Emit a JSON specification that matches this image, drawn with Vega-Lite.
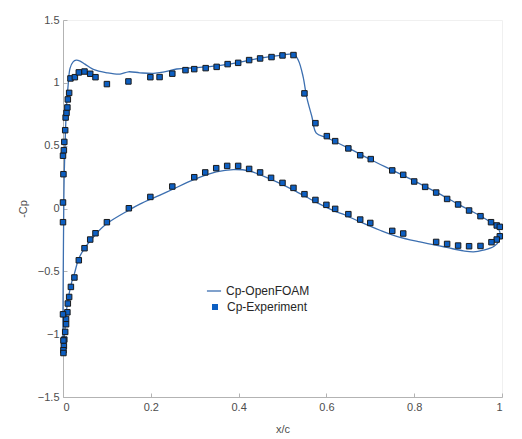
{
  "$schema": "https://vega.github.io/schema/vega-lite/v6.json",
  "width": 439,
  "height": 377,
  "autosize": {"type": "none"},
  "padding": {"left": 63, "top": 20, "right": 20, "bottom": 42},
  "background": "white",
  "config": {
    "view": {"stroke": "#f0f0f0", "strokeWidth": 1},
    "font": "Liberation Sans",
    "axis": {
      "grid": false,
      "domainColor": "#b3b3b3",
      "tickColor": "#b3b3b3",
      "labelColor": "#4d4d4d",
      "titleColor": "#4d4d4d",
      "labelFontSize": 11,
      "titleFontSize": 11,
      "titleFontWeight": "normal",
      "tickSize": -4,
      "labelPadding": 8,
      "format": "~g"
    }
  },
  "datasets": {
    "cfd": [
      {"i": 1, "x": 0.0, "cp": -1.14},
      {"i": 2, "x": 0.0, "cp": -0.8},
      {"i": 3, "x": 0.001, "cp": -0.3},
      {"i": 4, "x": 0.002, "cp": 0.1},
      {"i": 5, "x": 0.003, "cp": 0.3},
      {"i": 6, "x": 0.005, "cp": 0.545},
      {"i": 7, "x": 0.008, "cp": 0.809},
      {"i": 8, "x": 0.012, "cp": 0.995},
      {"i": 9, "x": 0.016, "cp": 1.115},
      {"i": 10, "x": 0.023, "cp": 1.167},
      {"i": 11, "x": 0.03, "cp": 1.18},
      {"i": 12, "x": 0.039, "cp": 1.173},
      {"i": 13, "x": 0.05, "cp": 1.149},
      {"i": 14, "x": 0.069, "cp": 1.107},
      {"i": 15, "x": 0.1, "cp": 1.08},
      {"i": 16, "x": 0.13, "cp": 1.069},
      {"i": 17, "x": 0.149, "cp": 1.088},
      {"i": 18, "x": 0.175, "cp": 1.08},
      {"i": 19, "x": 0.206, "cp": 1.075},
      {"i": 20, "x": 0.228, "cp": 1.085},
      {"i": 21, "x": 0.259, "cp": 1.11},
      {"i": 22, "x": 0.3, "cp": 1.12},
      {"i": 23, "x": 0.35, "cp": 1.135},
      {"i": 24, "x": 0.4, "cp": 1.163},
      {"i": 25, "x": 0.45, "cp": 1.197},
      {"i": 26, "x": 0.5, "cp": 1.22},
      {"i": 27, "x": 0.525, "cp": 1.228},
      {"i": 28, "x": 0.536, "cp": 1.18},
      {"i": 29, "x": 0.547, "cp": 1.048},
      {"i": 30, "x": 0.555, "cp": 0.888},
      {"i": 31, "x": 0.567, "cp": 0.73},
      {"i": 32, "x": 0.577, "cp": 0.6},
      {"i": 33, "x": 0.6, "cp": 0.565},
      {"i": 34, "x": 0.65, "cp": 0.48},
      {"i": 35, "x": 0.7, "cp": 0.39},
      {"i": 36, "x": 0.75, "cp": 0.305},
      {"i": 37, "x": 0.8, "cp": 0.22},
      {"i": 38, "x": 0.85, "cp": 0.13},
      {"i": 39, "x": 0.9, "cp": 0.035},
      {"i": 40, "x": 0.95, "cp": -0.058},
      {"i": 41, "x": 0.973, "cp": -0.107},
      {"i": 42, "x": 0.988, "cp": -0.146},
      {"i": 43, "x": 0.995, "cp": -0.186},
      {"i": 44, "x": 0.994, "cp": -0.252},
      {"i": 45, "x": 0.982, "cp": -0.3},
      {"i": 46, "x": 0.957, "cp": -0.332},
      {"i": 47, "x": 0.935, "cp": -0.345},
      {"i": 48, "x": 0.912, "cp": -0.337},
      {"i": 49, "x": 0.874, "cp": -0.31},
      {"i": 50, "x": 0.813, "cp": -0.266},
      {"i": 51, "x": 0.76, "cp": -0.221},
      {"i": 52, "x": 0.722, "cp": -0.173},
      {"i": 53, "x": 0.677, "cp": -0.107},
      {"i": 54, "x": 0.638, "cp": -0.045},
      {"i": 55, "x": 0.623, "cp": -0.027},
      {"i": 56, "x": 0.575, "cp": 0.053},
      {"i": 57, "x": 0.525, "cp": 0.146},
      {"i": 58, "x": 0.474, "cp": 0.231},
      {"i": 59, "x": 0.424, "cp": 0.299},
      {"i": 60, "x": 0.388, "cp": 0.31},
      {"i": 61, "x": 0.349, "cp": 0.291},
      {"i": 62, "x": 0.299, "cp": 0.231},
      {"i": 63, "x": 0.249, "cp": 0.151},
      {"i": 64, "x": 0.221, "cp": 0.106},
      {"i": 65, "x": 0.175, "cp": 0.035},
      {"i": 66, "x": 0.15, "cp": -0.013},
      {"i": 67, "x": 0.1, "cp": -0.12},
      {"i": 68, "x": 0.074, "cp": -0.207},
      {"i": 69, "x": 0.049, "cp": -0.318},
      {"i": 70, "x": 0.036, "cp": -0.398},
      {"i": 71, "x": 0.026, "cp": -0.518},
      {"i": 72, "x": 0.02, "cp": -0.584},
      {"i": 73, "x": 0.014, "cp": -0.677},
      {"i": 74, "x": 0.008, "cp": -0.81},
      {"i": 75, "x": 0.005, "cp": -0.943},
      {"i": 76, "x": 0.001, "cp": -1.1},
      {"i": 77, "x": 0.0, "cp": -1.14}
    ],
    "exp": [
      {"x": 0.001, "cp": 0.273},
      {"x": 0.0, "cp": 0.42},
      {"x": 0.002, "cp": 0.464},
      {"x": 0.003, "cp": 0.53},
      {"x": 0.005, "cp": 0.623},
      {"x": 0.006, "cp": 0.724},
      {"x": 0.008, "cp": 0.761},
      {"x": 0.01, "cp": 0.804},
      {"x": 0.011, "cp": 0.868},
      {"x": 0.014, "cp": 0.92},
      {"x": 0.017, "cp": 1.035},
      {"x": 0.027, "cp": 1.045},
      {"x": 0.036, "cp": 1.083},
      {"x": 0.049, "cp": 1.09},
      {"x": 0.062, "cp": 1.072},
      {"x": 0.074, "cp": 1.045},
      {"x": 0.1, "cp": 0.99},
      {"x": 0.149, "cp": 1.011},
      {"x": 0.199, "cp": 1.045},
      {"x": 0.22, "cp": 1.046},
      {"x": 0.249, "cp": 1.073},
      {"x": 0.279, "cp": 1.101},
      {"x": 0.299, "cp": 1.109},
      {"x": 0.325, "cp": 1.117},
      {"x": 0.35, "cp": 1.127},
      {"x": 0.375, "cp": 1.149},
      {"x": 0.399, "cp": 1.159},
      {"x": 0.424, "cp": 1.181},
      {"x": 0.449, "cp": 1.194},
      {"x": 0.475, "cp": 1.205},
      {"x": 0.5, "cp": 1.218},
      {"x": 0.525, "cp": 1.221},
      {"x": 0.55, "cp": 0.916},
      {"x": 0.575, "cp": 0.679},
      {"x": 0.601, "cp": 0.576},
      {"x": 0.62, "cp": 0.536},
      {"x": 0.65, "cp": 0.478},
      {"x": 0.677, "cp": 0.424},
      {"x": 0.701, "cp": 0.393},
      {"x": 0.75, "cp": 0.303},
      {"x": 0.775, "cp": 0.268},
      {"x": 0.8, "cp": 0.215},
      {"x": 0.825, "cp": 0.172},
      {"x": 0.85, "cp": 0.127},
      {"x": 0.875, "cp": 0.076},
      {"x": 0.9, "cp": 0.032},
      {"x": 0.925, "cp": -0.016},
      {"x": 0.951, "cp": -0.061},
      {"x": 0.975, "cp": -0.109},
      {"x": 0.988, "cp": -0.135},
      {"x": 0.995, "cp": -0.146},
      {"x": 0.995, "cp": -0.221},
      {"x": 0.988, "cp": -0.247},
      {"x": 0.976, "cp": -0.268},
      {"x": 0.951, "cp": -0.298},
      {"x": 0.925, "cp": -0.3},
      {"x": 0.9, "cp": -0.295},
      {"x": 0.875, "cp": -0.282},
      {"x": 0.85, "cp": -0.266},
      {"x": 0.775, "cp": -0.199},
      {"x": 0.75, "cp": -0.178},
      {"x": 0.7, "cp": -0.115},
      {"x": 0.677, "cp": -0.088},
      {"x": 0.65, "cp": -0.045},
      {"x": 0.62, "cp": -0.003},
      {"x": 0.6, "cp": 0.029},
      {"x": 0.575, "cp": 0.068},
      {"x": 0.55, "cp": 0.114},
      {"x": 0.525, "cp": 0.164},
      {"x": 0.5, "cp": 0.204},
      {"x": 0.474, "cp": 0.244},
      {"x": 0.449, "cp": 0.287},
      {"x": 0.424, "cp": 0.315},
      {"x": 0.399, "cp": 0.339},
      {"x": 0.374, "cp": 0.339},
      {"x": 0.349, "cp": 0.321},
      {"x": 0.324, "cp": 0.287},
      {"x": 0.299, "cp": 0.249},
      {"x": 0.249, "cp": 0.175},
      {"x": 0.199, "cp": 0.092},
      {"x": 0.15, "cp": 0.002},
      {"x": 0.1, "cp": -0.109},
      {"x": 0.074, "cp": -0.197},
      {"x": 0.062, "cp": -0.247},
      {"x": 0.049, "cp": -0.316},
      {"x": 0.036, "cp": -0.412},
      {"x": 0.026, "cp": -0.549},
      {"x": 0.018, "cp": -0.624},
      {"x": 0.014, "cp": -0.704},
      {"x": 0.011, "cp": -0.756},
      {"x": 0.01, "cp": -0.826},
      {"x": 0.007, "cp": -0.879},
      {"x": 0.007, "cp": -0.921},
      {"x": 0.005, "cp": -0.982},
      {"x": 0.003, "cp": -1.043},
      {"x": 0.002, "cp": -1.094},
      {"x": 0.001, "cp": -1.128},
      {"x": 0.001, "cp": -1.15},
      {"x": 0.0, "cp": -0.842},
      {"x": 0.001, "cp": -1.05},
      {"x": 0.0, "cp": 0.048},
      {"x": 0.0, "cp": -0.109}
    ]
  },
  "layer": [
    {
      "data": {"name": "cfd"},
      "transform": [{"calculate": "'Cp-OpenFOAM'", "as": "series"}],
      "mark": {"type": "line", "interpolate": "catmull-rom", "strokeWidth": 1.3},
      "encoding": {
        "x": {"field": "x", "type": "quantitative",
              "scale": {"domain": [0, 1], "nice": false},
              "axis": {"title": "x/c", "values": [0, 0.2, 0.4, 0.6, 0.8, 1], "titlePadding": 11}},
        "y": {"field": "cp", "type": "quantitative",
              "scale": {"domain": [-1.5, 1.5], "nice": false, "zero": false},
              "axis": {"title": "-Cp", "values": [-1.5, -1, -0.5, 0, 0.5, 1, 1.5], "titlePadding": 9}},
        "order": {"field": "i", "type": "quantitative"},
        "color": {"field": "series", "type": "nominal",
                  "scale": {"range": ["#3c6fb0"]},
                  "legend": {"title": null, "orient": "none", "legendX": 143, "legendY": 263,
                             "symbolType": "stroke", "symbolSize": 200, "symbolStrokeWidth": 1.3,
                             "labelFontSize": 12, "labelColor": "#262626", "labelOffset": 4}}
      }
    },
    {
      "data": {"name": "exp"},
      "transform": [{"calculate": "'Cp-Experiment'", "as": "series2"}],
      "mark": {"type": "point", "shape": "square", "filled": true, "size": 30,
               "fill": "#0d5fc2", "stroke": "#1a1a1a", "strokeWidth": 1, "opacity": 1},
      "encoding": {
        "x": {"field": "x", "type": "quantitative"},
        "y": {"field": "cp", "type": "quantitative"},
        "shape": {"field": "series2", "type": "nominal",
                  "scale": {"range": ["square"]},
                  "legend": {"title": null, "orient": "none", "legendX": 146, "legendY": 281,
                             "symbolFillColor": "#0d5fc2", "symbolStrokeColor": "#1a1a1a",
                             "symbolStrokeWidth": 1, "symbolSize": 36, "symbolOpacity": 1,
                             "labelFontSize": 12, "labelColor": "#262626", "labelOffset": 6}}
      }
    }
  ]
}
